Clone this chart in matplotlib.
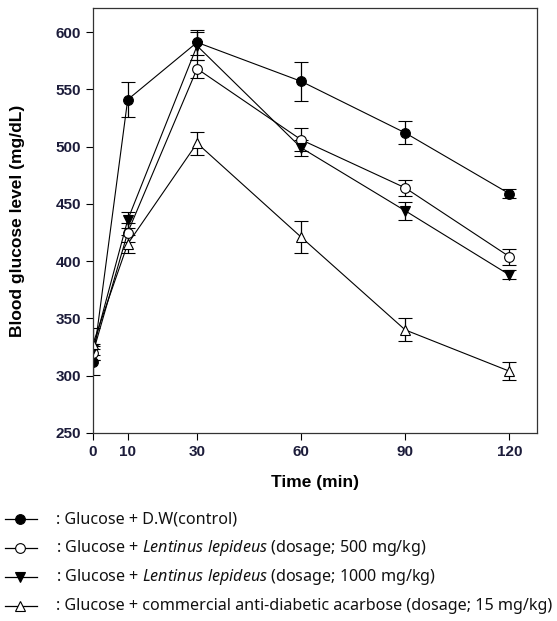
import matplotlib
matplotlib.use("Agg")
import matplotlib.pyplot as plt
from matplotlib.lines import Line2D

plt.rcParams['mathtext.fontset'] = 'custom'
plt.rcParams['mathtext.it'] = 'Noto Sans:italic'
plt.rcParams['mathtext.rm'] = 'Noto Sans'

time = [0, 10, 30, 60, 90, 120]
control = [312, 541, 591, 557, 512, 459]
control_err = [11, 15, 11, 17, 10, 4]
ll500 = [320, 425, 568, 506, 464, 404]
ll500_err = [6, 8, 8, 10, 7, 7]
ll1000 = [323, 436, 588, 499, 444, 388]
ll1000_err = [5, 7, 12, 7, 8, 4]
acarbose = [328, 415, 503, 421, 340, 304]
acarbose_err = [14, 8, 10, 14, 10, 8]

xticks = [0, 10, 30, 60, 90, 120]
yticks = [250, 300, 350, 400, 450, 500, 550, 600]

labels = [
    ": Glucose + D.W(control)",
    r": Glucose + $\it{Lentinus\ lepideus}$ (dosage; 500 mg/kg)",
    r": Glucose + $\it{Lentinus\ lepideus}$ (dosage; 1000 mg/kg)",
    ": Glucose + commercial anti-diabetic acarbose (dosage; 15 mg/kg)",
]

series = [
    (control, control_err, 'o', 'black'),
    (ll500, ll500_err, 'o', 'white'),
    (ll1000, ll1000_err, 'v', 'black'),
    (acarbose, acarbose_err, '^', 'white'),
]

fig = plt.figure(figsize=(5.57, 6.21), dpi=100)
ax = fig.add_axes([93/557, 1-433/621, (537-93)/557, (433-8)/621])

for vals, errs, m, fc in series:
    ax.errorbar(time, vals, yerr=errs, fmt='-', color='black', lw=0.8,
                marker=m, markersize=7.5 if m != 'o' else 7, mfc=fc, mec='black', mew=0.8,
                ecolor='black', elinewidth=0.9, capsize=5, capthick=0.9)

ax.set_xlim(0, 128)
ax.set_ylim(250, 621)
ax.set_xticks(xticks)
ax.set_yticks(yticks)
tickcol = '#1c1c3a'
ax.tick_params(direction='out', length=5, width=0.8, labelsize=11, colors='black',
               labelcolor=tickcol)
for lab in ax.get_xticklabels() + ax.get_yticklabels():
    lab.set_fontweight('bold')
    lab.set_fontfamily('Liberation Sans')
for s in ax.spines.values():
    s.set_linewidth(0.9)
    s.set_color('#333333')

ax.set_xlabel('Time (min)', fontsize=12.5, fontweight='bold', family='Liberation Sans', labelpad=12)
ax.set_ylabel('Blood glucose level (mg/dL)', fontsize=12.5, fontweight='bold', family='Liberation Sans', labelpad=22)

rows_y = [519, 548, 577, 606]
for (vals, errs, m, fc), lab, yp in zip(series, labels, rows_y):
    yf = 1 - yp/621
    fig.add_artist(Line2D([5/557, 37/557], [yf, yf], color='black', lw=0.9,
                          transform=fig.transFigure))
    fig.add_artist(Line2D([20/557], [yf], marker=m, markersize=7.5 if m != 'o' else 7,
                          mfc=fc, mec='black', mew=0.8, transform=fig.transFigure))
    fig.text(56/557, yf, lab, fontsize=11.6, family=['Noto Sans', 'DejaVu Sans'],
             va='center', ha='left', color='#111111')

fig.savefig('out.png', dpi=100)
